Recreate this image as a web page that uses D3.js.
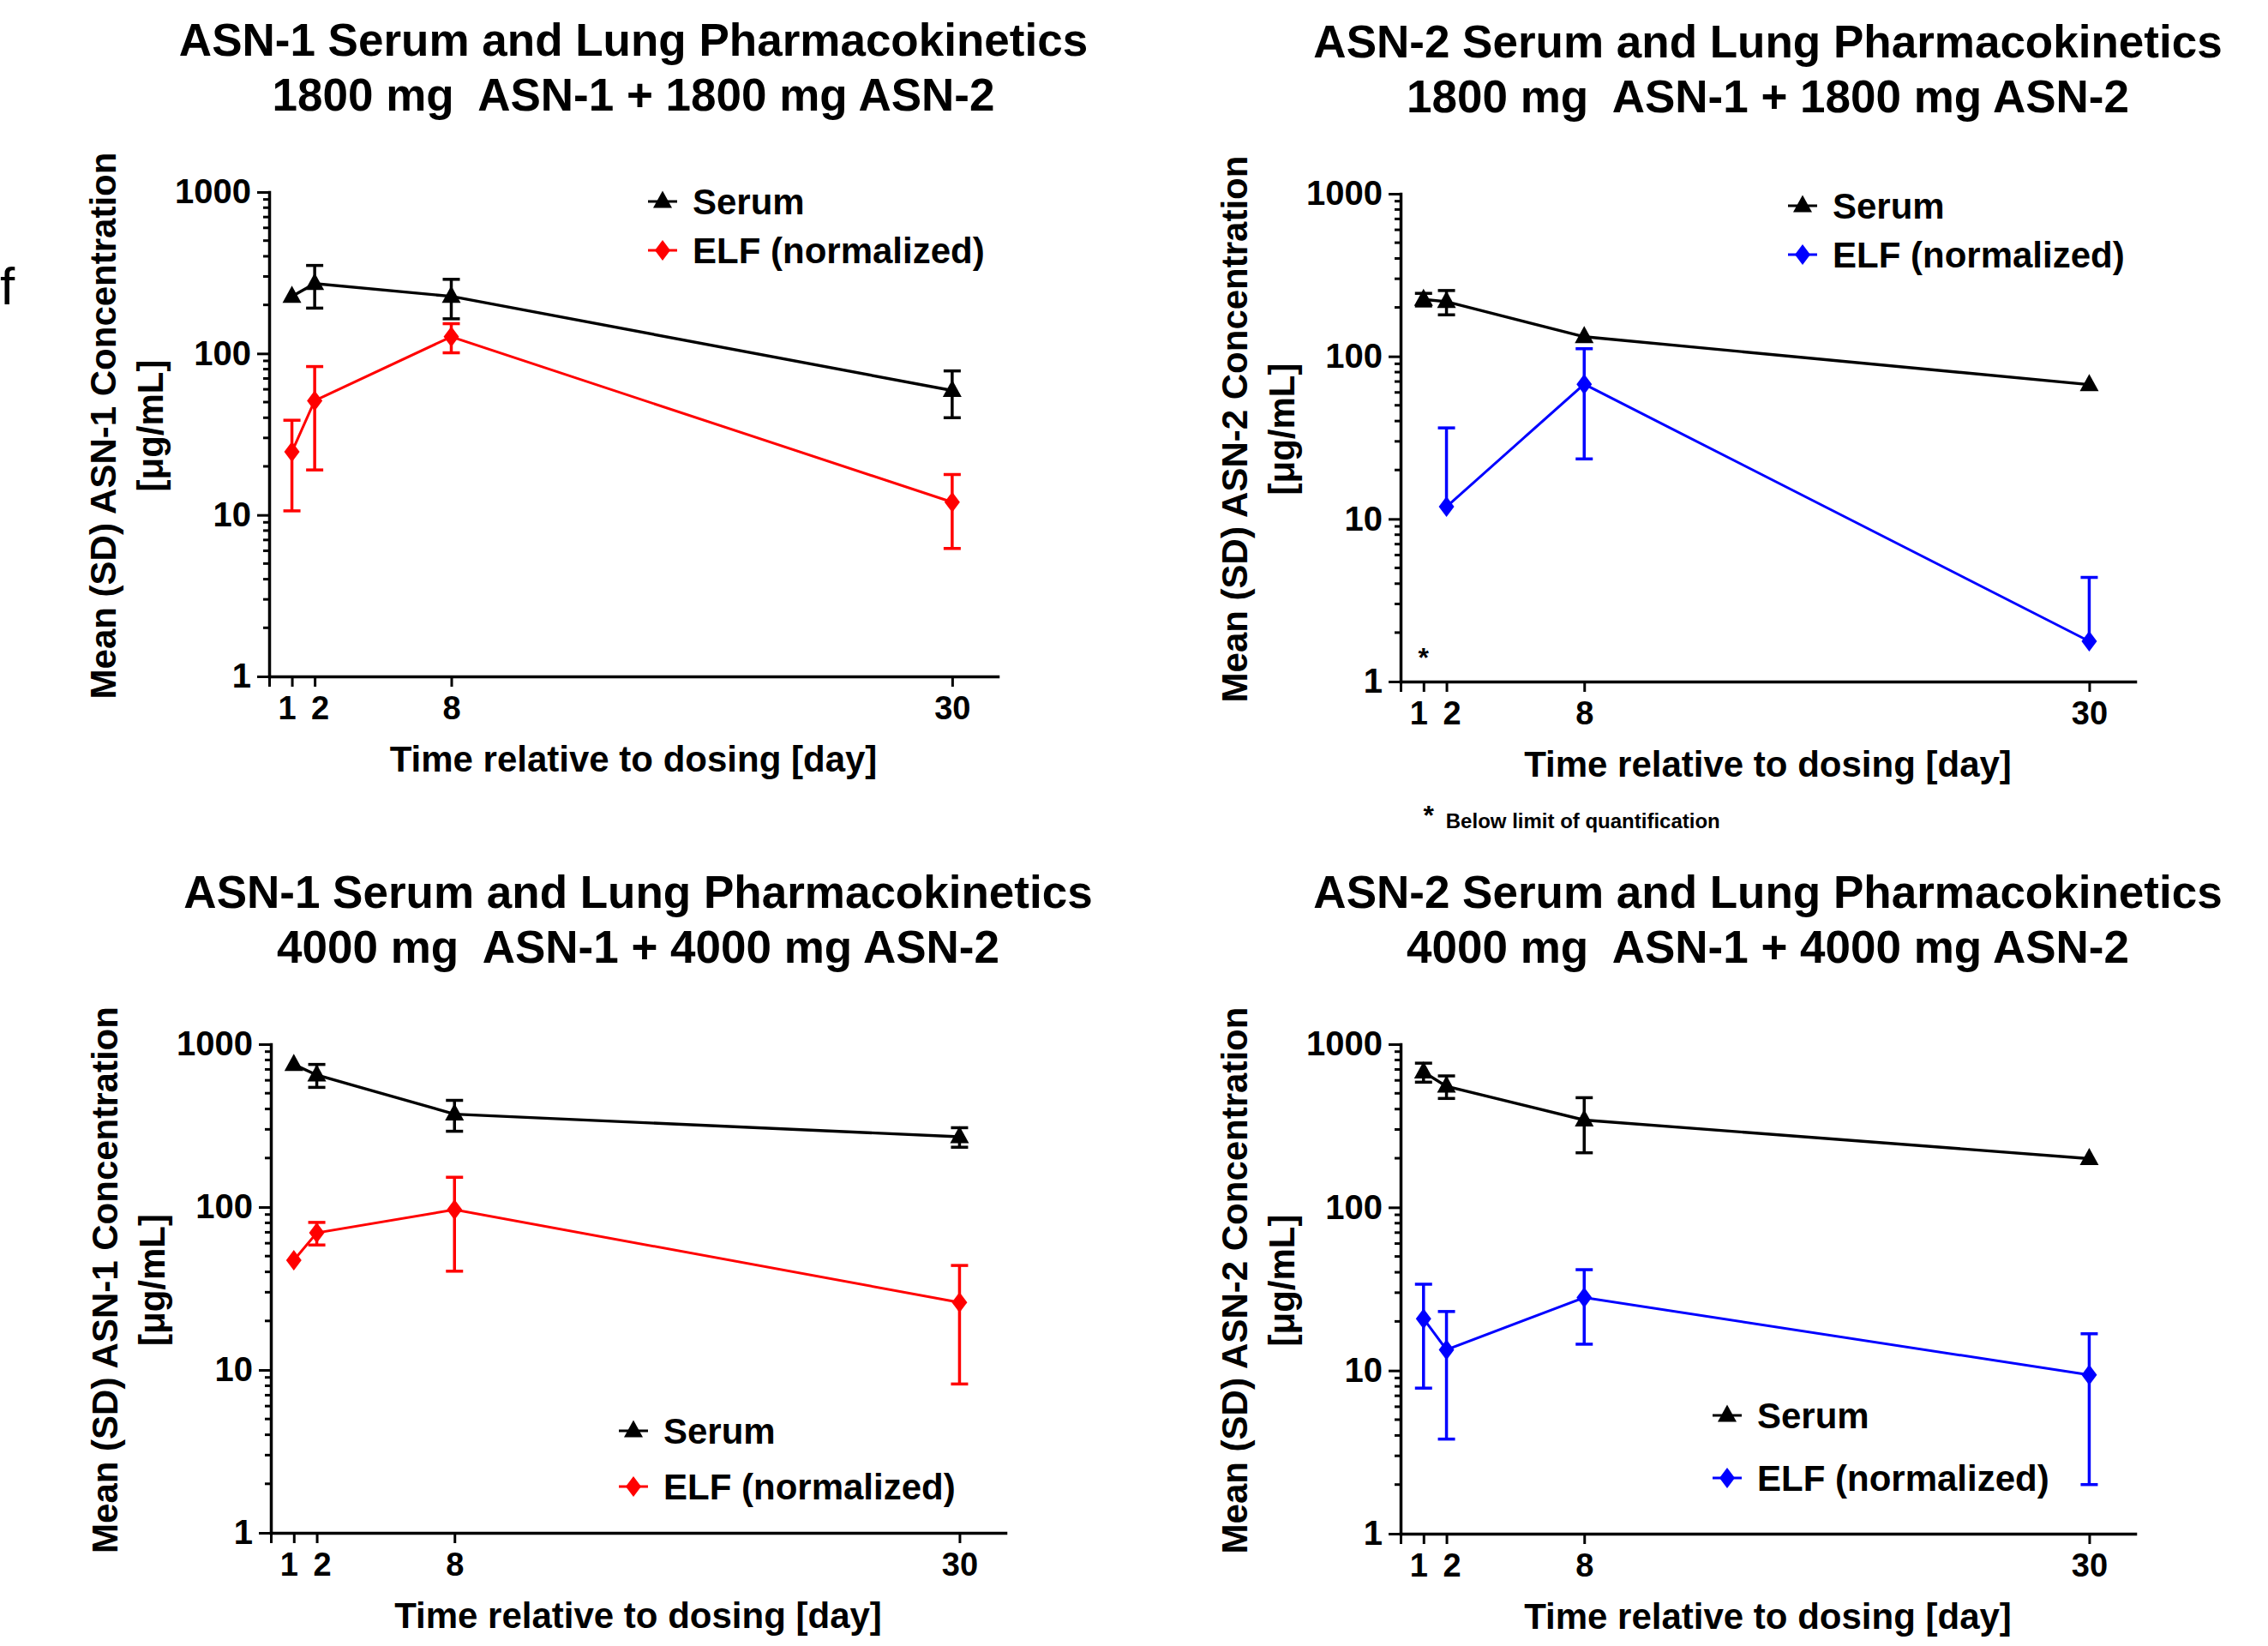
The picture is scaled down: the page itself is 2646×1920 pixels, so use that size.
<!DOCTYPE html>
<html><head><meta charset="utf-8">
<script src="https://cdn.jsdelivr.net/npm/d3@7"></script>
<style>
body{margin:0;background:#fff}
text{font-family:"Liberation Sans",Arial,Helvetica,sans-serif}
</style>
</head><body>
<svg id="chart" width="2646" height="1920"></svg>
<script>
// ---------------- DATA ----------------
const days = [1, 2, 8, 30];
const xTickValues = [0, 1, 2, 8, 30];
const yTickValues = [1, 10, 100, 1000];
const seriesNames = ["Serum", "ELF (normalized)"];

// ASN-1, 1800 mg ASN-1 + 1800 mg ASN-2
const asn1_1800_serum   = [226, 271, 226, 59];
const asn1_1800_serumSD = [null, 80, 62, 19];
const asn1_1800_elf     = [24.6, 51, 127, 12];
const asn1_1800_elfSD   = [14, 32, 26, 5.8];

// ASN-2, 1800 mg ASN-1 + 1800 mg ASN-2 (ELF day 1 below limit of quantification)
const asn2_1800_serum   = [224, 217, 132, 67];
const asn2_1800_serumSD = [20, 37, null, null];
const asn2_1800_elf     = [null, 11.9, 67.4, 1.77];
const asn2_1800_elfSD   = [null, 24.4, 44, 2.6];
const blqDay = 1, blqLevel = 1.55;

// ASN-1, 4000 mg ASN-1 + 4000 mg ASN-2
const asn1_4000_serum   = [751, 647, 372, 270];
const asn1_4000_serumSD = [null, 104, 80, 37];
const asn1_4000_elf     = [47.2, 69.5, 96.4, 26];
const asn1_4000_elfSD   = [null, 11, 56, 17.8];

// ASN-2, 4000 mg ASN-1 + 4000 mg ASN-2
const asn2_4000_serum   = [675, 552, 343, 199];
const asn2_4000_serumSD = [90, 87, 127, null];
const asn2_4000_elf     = [20.8, 13.4, 28, 9.4];
const asn2_4000_elfSD   = [13, 9.6, 13.5, 7.4];

const titles1 = ["ASN-1 Serum and Lung Pharmacokinetics", "ASN-2 Serum and Lung Pharmacokinetics",
                 "ASN-1 Serum and Lung Pharmacokinetics", "ASN-2 Serum and Lung Pharmacokinetics"];
const titles2 = ["1800 mg  ASN-1 + 1800 mg ASN-2", "1800 mg  ASN-1 + 1800 mg ASN-2",
                 "4000 mg  ASN-1 + 4000 mg ASN-2", "4000 mg  ASN-1 + 4000 mg ASN-2"];
const yLabels = ["Mean (SD) ASN-1 Concentration", "Mean (SD) ASN-2 Concentration",
                 "Mean (SD) ASN-1 Concentration", "Mean (SD) ASN-2 Concentration"];
const yUnit = "[\u03bcg/mL]";
const xLabel = "Time relative to dosing [day]";
const noteText = "Below limit of quantification";

// ---------------- LAYOUT ----------------
const panels = [
  {left:314, right:1164, top:224, bottom:789, serum:asn1_1800_serum, serumSD:asn1_1800_serumSD,
   elf:asn1_1800_elf, elfSD:asn1_1800_elfSD, color:"#ff0000", legX:773, legY:[235,292]},
  {left:1634, right:2491, top:226, bottom:795, serum:asn2_1800_serum, serumSD:asn2_1800_serumSD,
   elf:asn2_1800_elf, elfSD:asn2_1800_elfSD, color:"#0000ff", legX:2103, legY:[240,297], blq:true},
  {left:316, right:1173, top:1218, bottom:1788, serum:asn1_4000_serum, serumSD:asn1_4000_serumSD,
   elf:asn1_4000_elf, elfSD:asn1_4000_elfSD, color:"#ff0000", legX:739, legY:[1669,1734]},
  {left:1634, right:2491, top:1218, bottom:1789, serum:asn2_4000_serum, serumSD:asn2_4000_serumSD,
   elf:asn2_4000_elf, elfSD:asn2_4000_elfSD, color:"#0000ff", legX:2015, legY:[1651,1724]}
];
// small horizontal nudges so the crowded "1" and "2" tick labels do not touch
const xLabelNudge = {1: -6, 2: 6};

const svg = d3.select("#chart");
svg.append("rect").attr("width", 2646).attr("height", 1920).attr("fill", "#fff");

// panel letter
svg.append("text").attr("x", 0).attr("y", 355).attr("font-size", 62).attr("fill", "#000").text("f");

const triPath = "M0,-12.5L11,7.5L-11,7.5Z";
const diaPath = "M0,-12L9,0L0,12L-9,0Z";

panels.forEach((p, i) => {
  const g = svg.append("g");
  const x = d3.scaleLinear().domain([0, 32]).range([p.left, p.right]);
  const y = d3.scaleLog().domain([1, 1000]).range([p.bottom, p.top]);
  const cx = (p.left + p.right) / 2;

  // titles
  g.append("text").attr("x", cx).attr("y", p.top - 159).attr("text-anchor", "middle")
    .attr("font-size", 53).attr("font-weight", "bold").text(titles1[i]);
  g.append("text").attr("x", cx).attr("y", p.top - 95).attr("text-anchor", "middle")
    .attr("font-size", 53).attr("font-weight", "bold").style("white-space", "pre").text(titles2[i]);

  // y axis
  const ya = g.append("g").attr("transform", `translate(${p.left},0)`)
    .call(d3.axisLeft(y).tickValues(yTickValues).tickFormat(d3.format("d")).tickSize(14).tickSizeOuter(0).tickPadding(7));
  const minors = [];
  [1, 10, 100].forEach(dec => { for (let k = 2; k <= 9; k++) minors.push(k * dec); });
  g.selectAll(null).data(minors).join("line")
    .attr("x1", p.left - 7).attr("x2", p.left).attr("y1", d => y(d)).attr("y2", d => y(d))
    .attr("stroke", "#000").attr("stroke-width", 3);

  // x axis
  const xa = g.append("g").attr("transform", `translate(0,${p.bottom})`)
    .call(d3.axisBottom(x).tickValues(xTickValues).tickFormat(d => d === 0 ? "" : d).tickSize(12).tickSizeOuter(0).tickPadding(11));

  [ya, xa].forEach(a => {
    a.select(".domain").attr("stroke", "#000").attr("stroke-width", 3.5).attr("stroke-linecap", "square");
    a.selectAll(".tick line").attr("stroke", "#000").attr("stroke-width", 3);
    a.selectAll(".tick text").attr("fill", "#000").attr("font-weight", "bold")
      .attr("font-family", "'Liberation Sans', Arial, sans-serif");
  });
  ya.selectAll(".tick text").attr("font-size", 40);
  xa.selectAll(".tick text").attr("font-size", 38).attr("dx", d => xLabelNudge[d] || 0);

  // axis labels
  g.append("text").attr("x", cx).attr("y", p.bottom + 111).attr("text-anchor", "middle")
    .attr("font-size", 42).attr("font-weight", "bold").text(xLabel);
  const ymid = (p.top + p.bottom) / 2 - 10;
  g.append("text").attr("transform", `translate(${p.left - 179},${ymid}) rotate(-90)`)
    .attr("text-anchor", "middle").attr("font-size", 42).attr("font-weight", "bold").text(yLabels[i]);
  g.append("text").attr("transform", `translate(${p.left - 124},${ymid}) rotate(-90)`)
    .attr("text-anchor", "middle").attr("font-size", 42).attr("font-weight", "bold").text(yUnit);

  // series
  const series = [
    {vals: p.elf, sd: p.elfSD, color: p.color, path: diaPath, lw: 3},
    {vals: p.serum, sd: p.serumSD, color: "#000", path: triPath, lw: 3.4}
  ];
  series.forEach(s => {
    const pts = days.map((d, j) => ({d, v: s.vals[j], sd: s.sd[j]}));
    const line = d3.line().defined(q => q.v != null).x(q => x(q.d)).y(q => y(q.v));
    g.append("path").datum(pts).attr("d", line).attr("fill", "none")
      .attr("stroke", s.color).attr("stroke-width", s.lw);
    const eb = pts.filter(q => q.v != null && q.sd != null);
    eb.forEach(q => {
      const hi = q.v + q.sd;
      const lo = q.v - q.sd > 0 ? q.v - q.sd : null;
      const eg = g.append("g").attr("stroke", s.color).attr("stroke-width", 3.5);
      eg.append("line").attr("x1", x(q.d)).attr("x2", x(q.d)).attr("y1", y(hi)).attr("y2", lo != null ? y(lo) : y(q.v));
      eg.append("line").attr("x1", x(q.d) - 10).attr("x2", x(q.d) + 10).attr("y1", y(hi)).attr("y2", y(hi));
      if (lo != null) eg.append("line").attr("x1", x(q.d) - 10).attr("x2", x(q.d) + 10).attr("y1", y(lo)).attr("y2", y(lo));
    });
    g.selectAll(null).data(pts.filter(q => q.v != null)).join("path")
      .attr("d", s.path).attr("transform", q => `translate(${x(q.d)},${y(q.v)})`).attr("fill", s.color);
  });

  // legend
  const leg = [{name: seriesNames[0], color: "#000", path: triPath}, {name: seriesNames[1], color: p.color, path: diaPath}];
  leg.forEach((l, k) => {
    const ly = p.legY[k];
    g.append("line").attr("x1", p.legX - 17).attr("x2", p.legX + 17).attr("y1", ly).attr("y2", ly)
      .attr("stroke", l.color).attr("stroke-width", 3);
    g.append("path").attr("d", l.path).attr("transform", `translate(${p.legX},${ly})`).attr("fill", l.color);
    g.append("text").attr("x", p.legX + 35).attr("y", ly).attr("dy", "0.36em")
      .attr("font-size", 42).attr("font-weight", "bold").text(l.name);
  });

  // BLQ annotation
  if (p.blq) {
    g.append("text").attr("x", x(blqDay)).attr("y", y(blqLevel)).attr("dy", "0.6em").attr("text-anchor", "middle")
      .attr("font-size", 32).attr("font-weight", "bold").text("*");
    g.append("text").attr("x", x(blqDay) + 6).attr("y", p.bottom + 167).attr("text-anchor", "middle")
      .attr("font-size", 32).attr("font-weight", "bold").text("*");
    g.append("text").attr("x", x(blqDay) + 26).attr("y", p.bottom + 171)
      .attr("font-size", 24).attr("font-weight", "bold").text(noteText);
  }
});
</script>
</body></html>
